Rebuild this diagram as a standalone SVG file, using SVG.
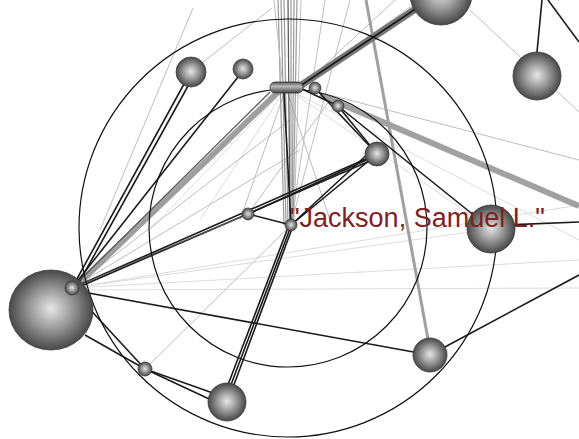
<svg xmlns="http://www.w3.org/2000/svg" width="579" height="439" viewBox="0 0 579 439">
<defs>
<radialGradient id="sph" cx="50%" cy="50%" r="55%" fx="50%" fy="48%">
<stop offset="0" stop-color="#e6e6e6"/>
<stop offset="0.45" stop-color="#9a9a9a"/>
<stop offset="0.9" stop-color="#4a4a4a"/>
<stop offset="1" stop-color="#333"/>
</radialGradient>
<linearGradient id="cap" x1="0" y1="0" x2="0" y2="1">
<stop offset="0" stop-color="#555"/>
<stop offset="0.4" stop-color="#bbb"/>
<stop offset="1" stop-color="#444"/>
</linearGradient>
<style>
.ring{fill:none;stroke:#111;stroke-width:1.2}
.dk{stroke:#1a1a1a;stroke-width:1.6;fill:none}
.md{stroke:#555;stroke-width:1.2;fill:none}
.lt{stroke:#bdbdbd;stroke-width:1;fill:none}
.vg{stroke:#9a9a9a;stroke-width:1.2;fill:none}
.vlt{stroke:#dcdcdc;stroke-width:1;fill:none}
.band{stroke:#8a8a8a;stroke-width:6;fill:none;opacity:0.8}
.gb{stroke:#a0a0a0;stroke-width:3;fill:none}
.node{fill:url(#sph);stroke:#3a3a3a;stroke-width:0.8}
.lbl{font-family:"Liberation Sans",Arial,sans-serif;font-size:27px;fill:#842020}
</style>
</defs>
<rect width="579" height="439" fill="#fff"/>
<g id="connectors">
<line class="vlt" x1="72" y1="288" x2="579" y2="205"/>
<line class="vlt" x1="72" y1="290" x2="579" y2="288"/>
<line class="vlt" x1="72" y1="288" x2="579" y2="260"/>
<line class="vlt" x1="72" y1="288" x2="491" y2="229"/>
<line class="vlt" x1="286" y1="88" x2="579" y2="240"/>
<line class="vlt" x1="286" y1="88" x2="491" y2="229"/>
<line class="vlt" x1="286" y1="88" x2="150" y2="230"/>
<line class="vlt" x1="286" y1="88" x2="200" y2="220"/>
<line class="lt" x1="193" y1="8" x2="100" y2="230"/>
<line class="lt" x1="272" y1="8" x2="198" y2="66"/>
<line class="lt" x1="470" y1="10" x2="579" y2="112"/>
<line class="lt" x1="330" y1="95" x2="579" y2="160"/>
<line class="lt" x1="145" y1="369" x2="291" y2="225"/>
<line class="lt" x1="300" y1="85" x2="420" y2="0"/>
<line class="lt" x1="300" y1="88" x2="395" y2="0"/>
<line class="lt" x1="291" y1="225" x2="350" y2="0"/>
<line class="lt" x1="291" y1="225" x2="325" y2="0"/>
<line class="lt" x1="291" y1="225" x2="377" y2="154"/>
<line class="lt" x1="248" y1="214" x2="330" y2="100"/>
<line class="lt" x1="72" y1="288" x2="300" y2="150"/>
<line class="lt" x1="72" y1="288" x2="290" y2="120"/>
<line class="lt" x1="286" y1="88" x2="240" y2="220"/>
<line class="lt" x1="286" y1="88" x2="330" y2="220"/>
<!-- vertical bundle through capsule -->
<line class="vg" x1="278" y1="0" x2="284" y2="225"/>
<line class="vg" x1="281" y1="0" x2="286" y2="225"/>
<line class="vg" x1="284" y1="0" x2="288" y2="225"/>
<line class="md" x1="288" y1="0" x2="290" y2="225"/>
<line class="vg" x1="291" y1="0" x2="291" y2="225"/>
<line class="vg" x1="294" y1="0" x2="292" y2="225"/>
<line class="vg" x1="297" y1="0" x2="293" y2="225"/>
<line class="lt" x1="301" y1="0" x2="294" y2="225"/>
<line class="lt" x1="274" y1="0" x2="283" y2="88"/>
<!-- gray bands -->
<line class="band" x1="76" y1="286" x2="278" y2="92"/>
<line class="vg" x1="76" y1="288" x2="275" y2="95"/>
<line class="band" x1="320" y1="95" x2="579" y2="206"/>
<line class="gb" x1="366" y1="0" x2="430" y2="350"/>
<line x1="300" y1="86" x2="420" y2="6" stroke="#777" stroke-width="7"/>
<!-- dark connectors -->
<line class="dk" x1="72" y1="288" x2="184" y2="84"/>
<line class="dk" x1="76" y1="288" x2="188" y2="86"/>
<line class="dk" x1="72" y1="288" x2="238" y2="77"/>
<line class="md" x1="72" y1="288" x2="270" y2="92"/>
<line class="dk" x1="72" y1="288" x2="377" y2="154"/>
<line class="dk" x1="72" y1="290" x2="372" y2="160"/>
<line class="md" x1="72" y1="288" x2="248" y2="214"/>
<line class="dk" x1="72" y1="290" x2="430" y2="355" stroke-width="2"/>
<line class="dk" x1="72" y1="290" x2="145" y2="369"/>
<line class="dk" x1="85" y1="335" x2="145" y2="369"/>
<line class="dk" x1="145" y1="369" x2="227" y2="398" stroke-width="3"/>
<line class="dk" x1="145" y1="369" x2="222" y2="405"/>
<line class="dk" x1="226" y1="390" x2="289" y2="225"/>
<line class="dk" x1="232" y1="390" x2="293" y2="226"/>
<line class="dk" x1="229" y1="390" x2="291" y2="226"/>
<line class="dk" x1="291" y1="225" x2="377" y2="154" stroke-width="2.5"/>
<line class="dk" x1="291" y1="225" x2="372" y2="150"/>
<line class="dk" x1="248" y1="214" x2="291" y2="225"/>
<line class="dk" x1="248" y1="214" x2="375" y2="156"/>
<line class="dk" x1="291" y1="225" x2="284" y2="93"/>
<line class="dk" x1="377" y1="154" x2="338" y2="106" stroke-width="2.5"/>
<line class="dk" x1="377" y1="154" x2="315" y2="88"/>
<line class="dk" x1="338" y1="106" x2="491" y2="229"/>
<line class="dk" x1="300" y1="88" x2="338" y2="106"/>
<line class="dk" x1="300" y1="86" x2="420" y2="6" stroke-width="3"/>
<line class="dk" x1="430" y1="355" x2="579" y2="275" stroke-width="2"/>
<line class="dk" x1="505" y1="225" x2="579" y2="222"/>
<line class="dk" x1="537" y1="52" x2="542" y2="0"/>
<line class="dk" x1="548" y1="0" x2="579" y2="42"/>
</g>
<g id="rings">
<circle class="ring" cx="288" cy="228" r="209"/>
<circle class="ring" cx="288" cy="228" r="139"/>
</g>
<g id="n-left"><ellipse class="node" cx="51" cy="310" rx="42" ry="40"/><circle class="node" cx="72" cy="288" r="7"/></g>
<g id="n-b"><circle class="node" cx="191" cy="72" r="15"/></g>
<g id="n-c"><circle class="node" cx="243" cy="69" r="10"/></g>
<g id="n-d"><circle class="node" cx="441" cy="-6" r="31"/></g>
<g id="n-e"><circle class="node" cx="537" cy="76" r="24"/></g>
<g id="n-f"><circle class="node" cx="377" cy="154" r="12"/></g>
<g id="n-g"><circle class="node" cx="338" cy="106" r="6"/></g>
<g id="n-h"><circle class="node" cx="315" cy="88" r="6"/></g>
<g id="n-k"><rect x="270" y="82" width="33" height="11" rx="5" fill="url(#cap)" stroke="#333" stroke-width="0.8"/></g>
<g id="n-m"><circle class="node" cx="248" cy="214" r="6"/></g>
<g id="n-l"><circle class="node" cx="491" cy="229" r="24"/></g>
<g id="n-j"><circle class="node" cx="291" cy="225" r="6"/><text class="lbl" x="290" y="227">"Jackson, Samuel L."</text></g>
<g id="n-n"><circle class="node" cx="430" cy="355" r="17"/></g>
<g id="n-p"><circle class="node" cx="145" cy="369" r="7"/></g>
<g id="n-q"><circle class="node" cx="227" cy="402" r="19"/></g>
</svg>
